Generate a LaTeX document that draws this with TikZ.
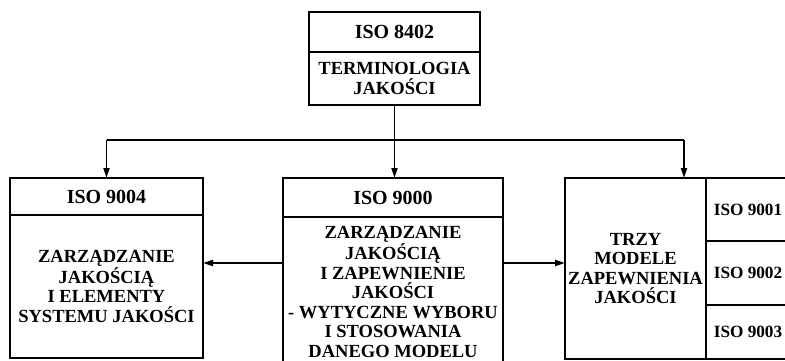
\documentclass[tikz,border=0pt]{standalone}
\usepackage{fontspec}
\setmainfont{Liberation Serif}
\usepackage{tikz}
\usetikzlibrary{arrows.meta, positioning}

\begin{document}
\begin{tikzpicture}[
  x=1pt, y=-1pt,
  every node/.style={font=\bfseries\fontsize{18.5}{19.5}\selectfont},
  isobox/.style={rectangle, draw, line width=2pt, outer sep=0pt,
    inner sep=0pt, align=center, font=\bfseries\fontsize{20}{21}\selectfont},
  textbox/.style={rectangle, draw, line width=2pt, outer sep=0pt,
    inner sep=0pt, align=center},
  cellbox/.style={isobox, minimum width=84pt,
    font=\bfseries\fontsize{17.2}{19}\selectfont},
  arr/.style={-{Triangle[length=10pt, width=6pt]}, line width=1.7pt},
  bar/.style={line width=1.7pt}
]
\clip (0,0) rectangle (785,361);

% top box
\node[isobox, minimum width=171pt, minimum height=40pt] (t8402) at (394.5,32) {ISO 8402};
\node[textbox, minimum width=171pt, minimum height=53pt, below=0pt of t8402] (b8402)
  {TERMINOLOGIA\\ JAKOŚCI};

% left box
\node[isobox, minimum width=193pt, minimum height=37pt] (t9004) at (106.5,196.5) {ISO 9004};
\node[textbox, minimum width=193pt, minimum height=143pt, below=0pt of t9004] (b9004)
  {ZARZĄDZANIE\\ JAKOŚCIĄ\\ I ELEMENTY\\ SYSTEMU JAKOŚCI};

% middle box
\node[isobox, minimum width=220pt, minimum height=39pt] (t9000) at (393,197.5) {ISO 9000};
\node[textbox, minimum width=220pt, minimum height=150pt, below=0pt of t9000] (b9000)
  {ZARZĄDZANIE\\ JAKOŚCIĄ\\ I ZAPEWNIENIE\\ JAKOŚCI\\ - WYTYCZNE WYBORU\\
   I STOSOWANIA\\ DANEGO MODELU};

% right box
\node[textbox, minimum width=141pt, minimum height=181pt] (trzy) at (635.5,268.5)
  {TRZY\\ MODELE\\ ZAPEWNIENIA\\ JAKOŚCI};
\node[cellbox, minimum height=63pt, anchor=north west] (t9001) at (trzy.north east) {ISO 9001};
\node[cellbox, minimum height=64pt, below=0pt of t9001] (t9002) {ISO 9002};
\node[cellbox, minimum height=54pt, below=0pt of t9002] (t9003) {ISO 9003};

% connectors
\coordinate (split) at (395,140);
\coordinate (rdrop) at (684,140);
\coordinate (mid) at (0,263);
\draw[arr] (b8402.south) -- (t9000.north -| b8402.south);
\draw[bar] (split -| t9004.north) -- (rdrop);
\draw[arr] (split -| t9004.north) -- (t9004.north);
\draw[arr] (rdrop) -- (rdrop |- trzy.north);
\draw[arr] (b9000.west |- mid) -- (b9004.east |- mid);
\draw[arr] (b9000.east |- mid) -- (trzy.west |- mid);

\end{tikzpicture}
\end{document}
